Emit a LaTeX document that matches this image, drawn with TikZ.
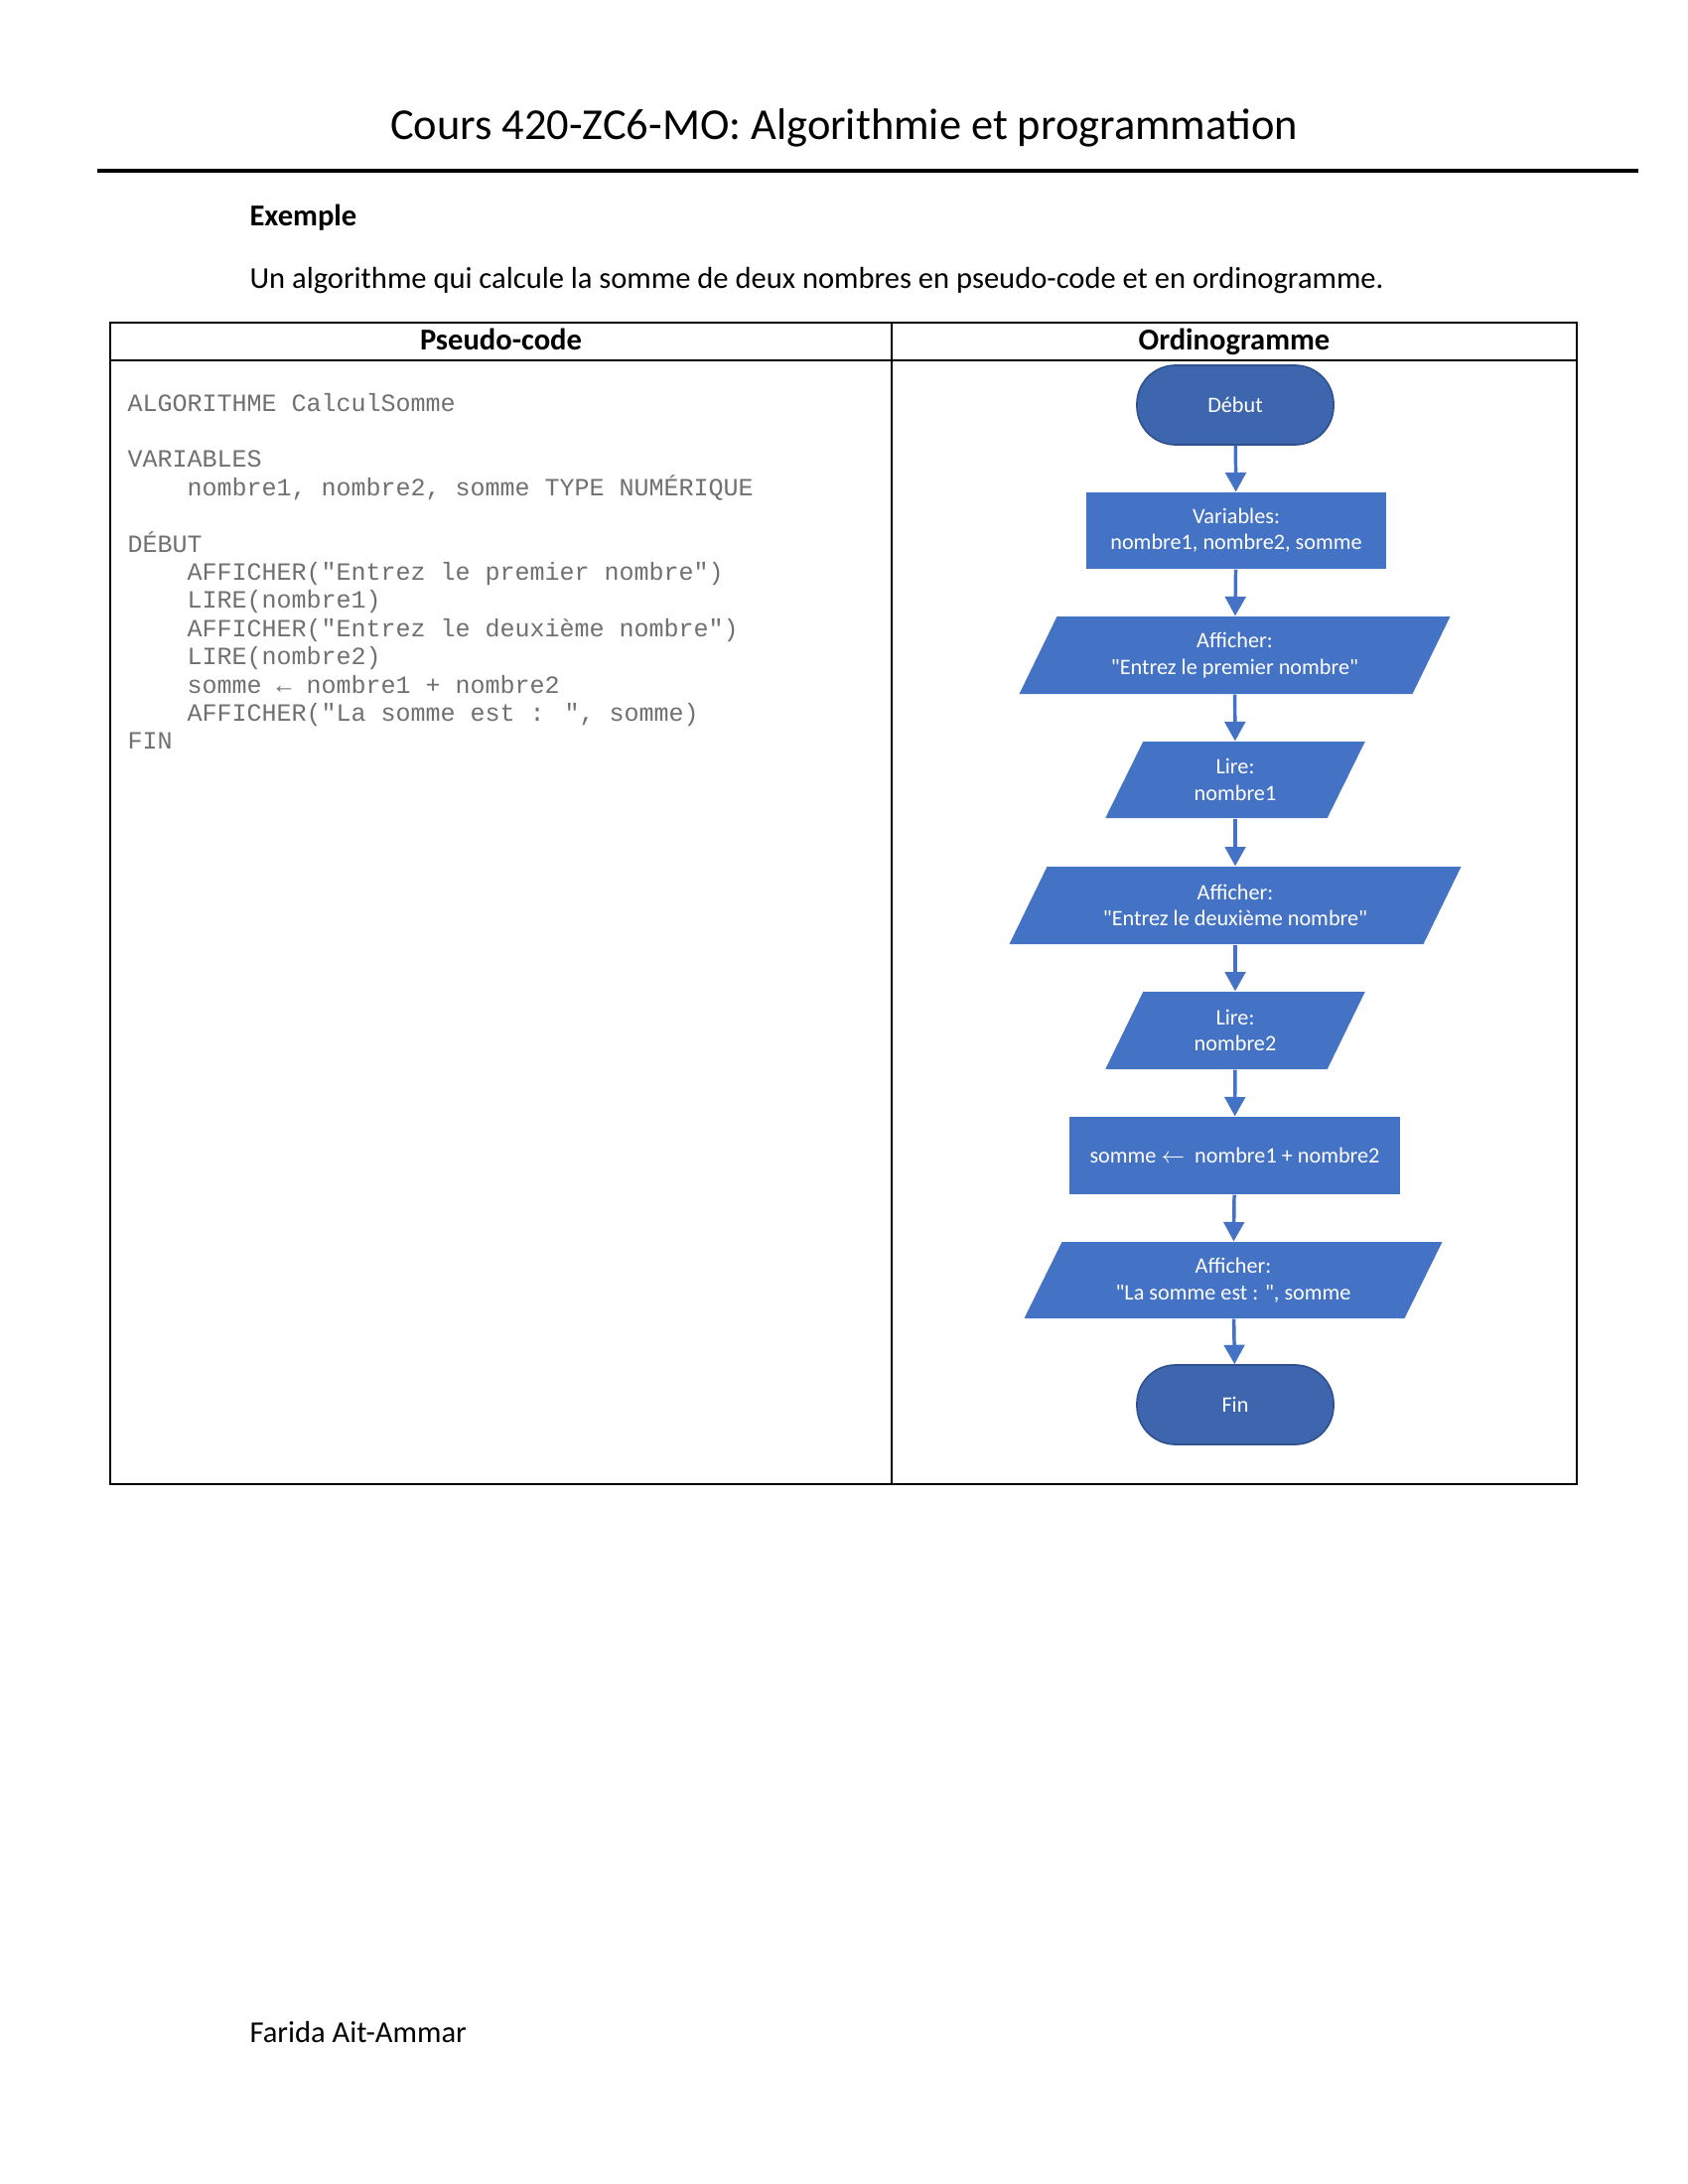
\documentclass[tikz,border=0pt]{standalone}
\usepackage{fontspec}
\setmainfont{Carlito}
\newfontfamily\flowfont{Carlito}[Ligatures=TeXOff]
\newfontfamily\codefont{Liberation Mono}
\usetikzlibrary{arrows.meta}
\definecolor{fcblue}{HTML}{4472C4}
\definecolor{termblue}{HTML}{3E66AE}
\definecolor{termedge}{HTML}{2F528F}
\definecolor{codegray}{HTML}{707070}
\newcommand\dq{\symbol{34}}
\tikzset{
  flowtext/.style={font=\flowfont\fontsize{8}{9.5}\selectfont, text=white, align=center, inner sep=0pt},
  flowarrow/.style={draw=fcblue, line width=1.25pt, -{Triangle[width=7.4pt,length=7pt]}},
  terminal/.style={flowtext, fill=termblue, draw=termedge, line width=0.6pt, rounded corners=14pt},
  procbox/.style={flowtext, fill=fcblue},
  codeline/.style={anchor=base west, inner sep=0pt, font=\codefont\fontsize{9}{10}\selectfont, text=codegray},
  plaintext/.style={inner sep=0pt, font=\fontsize{11}{13}\selectfont},
  boldtext/.style={inner sep=0pt, font=\fontsize{11}{13}\selectfont\bfseries},
}
\newcommand\flowpara[6]{%
  \fill[fcblue] ({#2-#4/2+19},{#3-#5/2}) -- ({#2+#4/2+19},{#3-#5/2}) -- ({#2+#4/2-19},{#3+#5/2}) -- ({#2-#4/2-19},{#3+#5/2}) -- cycle;
  \node[flowtext, minimum width={#4*0.36pt}, minimum height={#5*0.36pt}] (#1) at (#2,#3) {#6};
}
\begin{document}
\begin{tikzpicture}[x=0.36pt,y=-0.36pt]
\useasboundingbox[fill=white] (0,0) rectangle (1700,2200);

% Title and rule
\node[inner sep=0pt, anchor=base, font=\fontsize{16}{19}\selectfont] (title) at (850,141) {Cours 420-ZC6-MO: Algorithmie et programmation};
\draw[line width=1.3pt] (98,172) -- (1650,172);

\node[boldtext, anchor=base west] (exemple) at (251,228) {Exemple};
\node[plaintext, anchor=base west] (intro) at (251,291) {Un algorithme qui calcule la somme de deux nombres en pseudo-code et en ordinogramme.};

% Table
\draw[line width=0.95pt] (111,325) rectangle (1588,1495);
\draw[line width=0.7pt] (111,363) -- (1588,363);
\draw[line width=0.8pt] (898,325) -- (898,1495);
\node[boldtext, anchor=base] (hpseudo) at (504.5,353) {Pseudo-code};
\node[boldtext, anchor=base] (hordino) at (1243,353) {Ordinogramme};

% Pseudo-code
\node[codeline] (c1) at (128,414) {ALGORITHME CalculSomme};
\node[codeline] (c2) at (128,470.8) {VARIABLES};
\node[codeline] (c3) at (188,499.2) {nombre1, nombre2, somme TYPE NUMÉRIQUE};
\node[codeline] (c4) at (128,556) {DÉBUT};
\node[codeline] (c5) at (188,584.4) {AFFICHER("Entrez le premier nombre")};
\node[codeline] (c6) at (188,612.8) {LIRE(nombre1)};
\node[codeline] (c7) at (188,641.2) {AFFICHER("Entrez le deuxième nombre")};
\node[codeline] (c8) at (188,669.6) {LIRE(nombre2)};
\node[codeline] (c9) at (188,698) {somme ← nombre1 + nombre2};
\node[codeline] (c10) at (188,726.4) {AFFICHER("La somme est : ", somme)};
\node[codeline] (c11) at (128,754.8) {FIN};

% Flowchart
\node[terminal, minimum width=71.3pt, minimum height=28.8pt] (deb) at (1244,408) {Début};
\node[procbox, minimum width=108.7pt, minimum height=27.7pt] (var) at (1245,534.5) {Variables:\\nombre1, nombre2, somme};
\flowpara{a1}{1243.5}{660}{396}{78}{Afficher:\\\dq Entrez le premier nombre\dq}
\flowpara{l1}{1244}{785.5}{223.5}{77}{Lire:\\nombre1}
\flowpara{a2}{1244}{912}{417}{78}{Afficher:\\\dq Entrez le deuxième nombre\dq}
\flowpara{l2}{1244}{1038}{223.5}{78}{Lire:\\nombre2}
\node[procbox, minimum width=119.9pt, minimum height=28.1pt] (som) at (1243.5,1164) {somme \(\leftarrow\)\ \ nombre1 + nombre2};
\flowpara{a3}{1242}{1289.5}{383}{77}{Afficher:\\\dq La somme est : \dq, somme}
\node[terminal, minimum width=71.3pt, minimum height=28.8pt] (fin) at (1244,1415) {Fin};

\foreach \a/\b in {deb/var, var/a1, a1/l1, l1/a2, a2/l2, l2/som, som/a3, a3/fin}
  \draw[flowarrow] (\a) -- (\b);

% Footer
\node[plaintext, anchor=base west] (footer) at (251,2057) {Farida Ait-Ammar};
\end{tikzpicture}
\end{document}
